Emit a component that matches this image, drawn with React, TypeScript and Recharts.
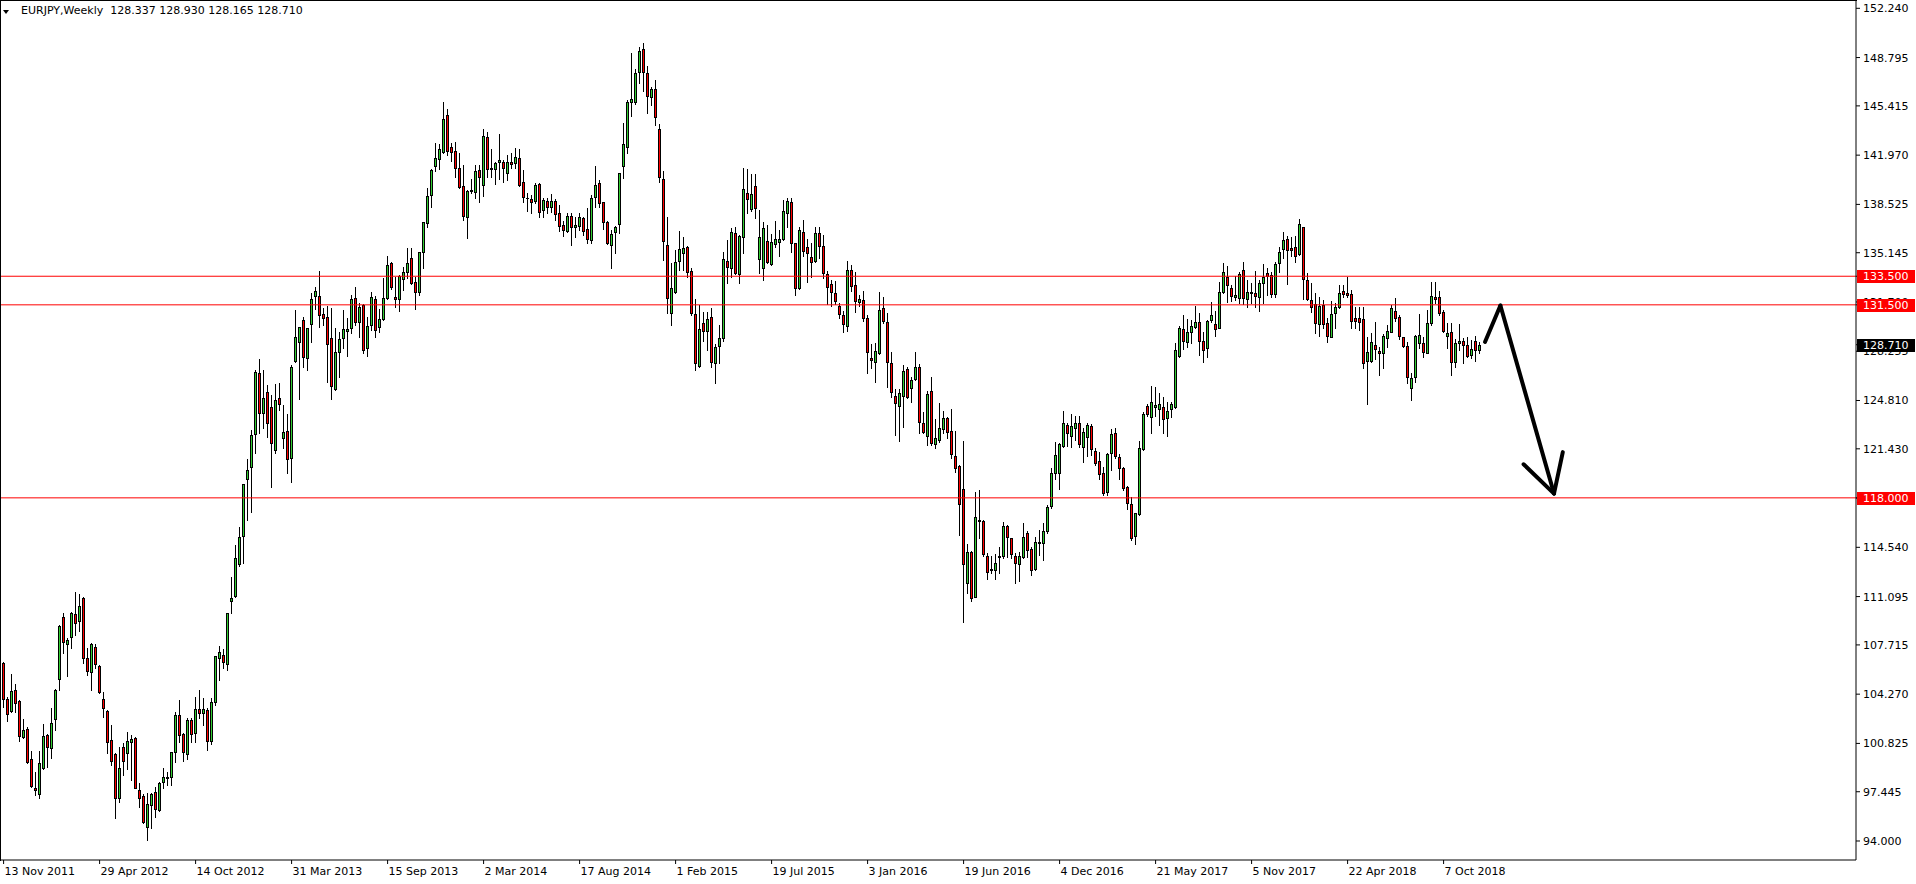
import React from 'react';
import { ComposedChart, Bar, XAxis, YAxis, ReferenceLine } from 'recharts';

const FONT = '"DejaVu Sans", Tahoma, sans-serif';
const BULL = '#32cd32';
const BEAR = '#ff0000';

// weekly EURJPY bars, one per week starting 13 Nov 2011
const opens = [
  106.42, 103.93, 103.09, 104.53, 103.79, 101.29, 101.83, 99.73, 97.68, 97.26,
  99.12, 101.38, 100.47, 102.5, 105.3, 109.64, 107.8, 108.24, 109.85, 109.36,
  110.99, 106.77, 105.79, 107.54, 106.23, 103.9, 103.09, 101.06, 100.08, 96.98,
  100.54, 100.12, 100.94, 101.17, 97.6, 97.14, 94.99, 96.51, 97.4, 96.16,
  98.14, 98.44, 98.49, 100.19, 102.78, 101.48, 100.08, 102.43, 101.52, 103.2,
  102.92, 103.13, 100.99, 103.7, 106.81, 107.0, 106.35, 110.8, 111.15, 113.37,
  115.35, 119.29, 120.18, 122.49, 126.71, 123.91, 125.38, 124.37, 121.34, 124.98,
  122.21, 122.67, 120.76, 127.55, 128.88, 130.41, 127.76, 130.16, 132.12, 132.12,
  130.86, 130.62, 129.15, 125.61, 128.22, 129.15, 129.69, 129.85, 131.95, 130.27,
  131.49, 128.45, 130.09, 131.9, 129.97, 130.48, 131.95, 134.4, 132.02, 131.88,
  133.28, 133.82, 134.75, 133.12, 132.42, 135.22, 137.24, 139.16, 141.21, 141.68,
  142.17, 144.78, 142.52, 142.26, 141.05, 139.83, 137.66, 139.46, 139.37, 140.93,
  139.9, 143.21, 141.02, 140.98, 141.51, 141.49, 140.7, 141.49, 141.4, 141.75,
  140.06, 138.99, 138.87, 138.78, 139.92, 138.13, 138.76, 138.32, 138.76, 137.9,
  137.08, 136.66, 137.71, 136.91, 137.03, 137.55, 136.78, 136.03, 139.02, 139.99,
  138.66, 137.31, 135.68, 136.57, 137.13, 141.23, 142.56, 145.66, 145.71, 147.81,
  149.37, 147.69, 146.06, 146.57, 143.8, 140.27, 135.68, 130.95, 132.42, 134.59,
  135.14, 135.52, 133.86, 130.83, 127.24, 130.2, 129.69, 130.62, 127.4, 128.64,
  129.15, 134.56, 134.05, 136.5, 133.63, 136.27, 139.34, 138.18, 139.81, 134.68,
  134.05, 135.96, 134.35, 135.75, 135.92, 136.08, 137.95, 138.69, 135.8, 132.65,
  136.57, 135.52, 134.87, 134.59, 136.5, 135.61, 133.63, 132.93, 132.3, 131.44,
  130.79, 130.04, 133.93, 132.88, 131.72, 131.84, 130.55, 127.75, 127.52, 128.1,
  131.25, 130.27, 127.4, 125.14, 124.42, 125.12, 126.98, 125.66, 126.29, 127.12,
  123.21, 122.32, 125.47, 121.74, 122.04, 122.79, 123.56, 122.67, 120.92, 120.23,
  118.62, 112.06, 114.18, 111.08, 116.45, 116.38, 113.93, 113.02, 112.95, 113.84,
  113.95, 116.03, 115.16, 113.93, 113.35, 113.88, 115.51, 114.39, 113.0, 114.81,
  114.81, 115.7, 117.43, 119.71, 119.71, 121.63, 123.09, 122.35, 122.86, 123.21,
  121.53, 122.28, 123.02, 121.3, 120.6, 119.71, 118.38, 121.11, 122.56, 120.88,
  120.06, 118.73, 117.54, 115.35, 116.84, 121.39, 124.42, 123.67, 124.37, 124.19,
  124.37, 123.6, 124.19, 124.37, 127.92, 129.78, 128.92, 129.57, 129.97, 130.27,
  128.97, 128.5, 130.44, 130.16, 129.9, 132.37, 133.47, 132.65, 132.07, 132.0,
  133.94, 131.91, 132.3, 132.3, 132.07, 133.0, 133.7, 133.59, 132.26, 134.45,
  135.4, 136.08, 135.45, 135.52, 135.03, 136.92, 133.24, 131.84, 131.53, 130.13,
  131.46, 130.2, 129.27, 130.9, 131.32, 132.47, 132.3, 132.23, 130.6, 130.55,
  130.51, 127.59, 127.59, 128.69, 128.29, 128.15, 129.2, 129.62, 131.07, 130.62,
  129.22, 128.64, 125.66, 126.47, 128.85, 128.8, 128.15, 130.2, 132.07, 132.07,
  131.02, 129.34, 129.62, 127.52, 128.85, 128.94, 128.69, 127.99, 128.97, 128.337,
];

const highs = [
  106.5, 104.09, 105.67, 104.97, 103.86, 102.53, 101.94, 100.29, 98.84, 100.29,
  102.18, 101.45, 103.32, 104.62, 109.1, 109.96, 108.17, 109.99, 111.39, 111.25,
  111.08, 107.47, 107.82, 107.75, 106.3, 104.39, 103.16, 102.11, 100.12, 100.59,
  100.82, 101.59, 101.41, 101.29, 98.09, 97.3, 97.33, 97.37, 97.75, 98.14,
  99.12, 98.84, 100.24, 103.04, 103.86, 101.52, 102.57, 102.57, 104.09, 104.55,
  103.97, 103.32, 103.97, 106.95, 107.65, 107.4, 109.97, 112.48, 114.7, 115.98,
  119.0, 120.71, 122.74, 126.94, 127.71, 126.94, 125.89, 125.19, 125.96, 126.01,
  124.49, 123.84, 127.29, 131.14, 129.97, 130.62, 129.9, 132.3, 132.77, 133.9,
  131.25, 131.42, 131.25, 129.85, 129.62, 131.13, 130.55, 132.18, 132.77, 131.6,
  131.55, 130.67, 132.37, 132.11, 131.2, 133.35, 134.94, 134.52, 133.47, 133.58,
  134.17, 135.45, 135.45, 133.47, 135.22, 137.3, 139.65, 141.0, 142.84, 142.73,
  145.66, 145.17, 142.8, 142.87, 142.1, 141.28, 139.53, 140.28, 141.28, 141.28,
  143.8, 143.56, 142.38, 141.47, 143.45, 141.63, 141.98, 142.1, 142.45, 142.38,
  140.93, 139.3, 139.18, 139.99, 140.04, 138.95, 138.95, 139.25, 138.88, 138.48,
  137.36, 137.9, 137.94, 137.66, 137.94, 137.66, 138.29, 139.18, 141.21, 140.23,
  138.71, 137.36, 136.73, 137.01, 140.74, 144.19, 145.83, 149.09, 147.97, 149.56,
  149.79, 148.2, 146.76, 147.22, 144.12, 140.86, 137.66, 134.4, 135.33, 136.66,
  136.22, 135.61, 134.05, 131.9, 131.49, 130.97, 130.97, 131.25, 128.73, 130.09,
  135.22, 136.03, 136.85, 136.92, 136.38, 141.05, 140.98, 140.65, 140.65, 138.13,
  137.31, 137.08, 136.45, 137.39, 136.73, 138.83, 138.95, 138.99, 135.85, 136.92,
  137.43, 136.08, 135.8, 136.92, 136.92, 136.38, 133.89, 133.23, 133.16, 131.6,
  131.07, 134.56, 134.28, 133.77, 132.19, 132.46, 130.79, 128.76, 128.85, 132.37,
  132.02, 130.9, 128.22, 125.59, 125.59, 127.29, 127.17, 126.47, 128.22, 127.33,
  124.02, 125.49, 126.43, 123.49, 124.61, 124.09, 123.67, 124.19, 122.67, 120.3,
  121.97, 114.77, 114.25, 118.38, 118.55, 116.45, 114.12, 113.95, 114.05, 114.58,
  116.33, 116.1, 115.21, 114.12, 114.23, 116.26, 115.7, 114.58, 115.28, 115.75,
  116.21, 117.5, 120.06, 121.93, 121.81, 124.07, 123.21, 123.84, 123.72, 123.72,
  122.91, 123.21, 123.14, 121.46, 121.23, 120.18, 121.16, 122.79, 122.86, 121.04,
  120.18, 118.83, 118.03, 116.96, 121.97, 124.03, 124.54, 125.82, 125.77, 125.31,
  125.07, 124.72, 124.72, 128.8, 130.02, 130.79, 130.48, 130.44, 131.42, 130.9,
  129.62, 130.44, 131.72, 131.07, 133.12, 134.45, 134.21, 132.89, 133.52, 133.82,
  134.47, 133.24, 133.0, 133.87, 133.24, 134.35, 134.1, 133.82, 134.52, 135.57,
  136.62, 136.31, 136.27, 136.34, 137.5, 136.97, 133.75, 133.0, 132.35, 132.02,
  131.84, 130.55, 131.79, 131.65, 132.89, 132.89, 133.47, 132.54, 131.37, 131.37,
  131.37, 129.27, 129.5, 130.32, 128.57, 129.43, 130.09, 131.49, 131.95, 130.79,
  129.27, 128.92, 126.75, 129.39, 130.83, 129.27, 131.14, 133.07, 133.07, 132.47,
  131.14, 130.25, 130.25, 129.08, 130.13, 129.15, 129.22, 129.04, 129.32, 128.93,
];

const lows = [
  103.39, 102.41, 103.04, 102.99, 101.01, 101.22, 99.45, 97.8, 97.21, 96.98,
  99.07, 99.17, 99.82, 101.76, 104.55, 107.17, 105.56, 107.47, 108.4, 108.71,
  106.47, 105.6, 104.55, 106.12, 104.37, 102.69, 100.17, 99.31, 95.58, 96.74,
  98.61, 99.07, 98.26, 97.68, 96.39, 95.23, 94.06, 94.88, 95.69, 96.11,
  97.68, 97.91, 97.91, 99.54, 100.94, 99.61, 99.77, 100.94, 100.94, 102.57,
  102.11, 100.36, 100.8, 103.5, 105.25, 106.07, 105.95, 109.92, 111.08, 113.25,
  113.46, 116.45, 117.03, 121.16, 122.51, 122.86, 122.23, 118.73, 121.11, 124.14,
  121.46, 119.71, 119.08, 127.5, 124.89, 127.13, 126.94, 128.92, 131.18, 129.93,
  130.09, 126.12, 124.89, 125.54, 126.47, 128.5, 127.94, 129.5, 130.09, 129.27,
  128.15, 127.94, 129.74, 129.27, 129.62, 130.44, 131.88, 132.58, 131.37, 131.09,
  132.53, 133.4, 132.95, 131.18, 132.18, 134.05, 136.97, 138.36, 140.88, 140.98,
  142.1, 141.98, 141.58, 140.42, 139.65, 137.43, 136.2, 139.3, 138.95, 138.71,
  139.11, 140.42, 140.42, 139.93, 140.28, 140.07, 140.23, 141.05, 141.05, 139.81,
  138.71, 138.06, 137.94, 138.6, 137.66, 137.66, 137.9, 138.01, 137.43, 136.68,
  136.33, 136.61, 135.68, 136.26, 136.73, 136.38, 135.8, 135.8, 138.36, 138.36,
  136.78, 135.75, 134.1, 135.14, 136.54, 140.35, 142.09, 144.71, 145.55, 146.99,
  146.45, 144.94, 145.47, 144.08, 140.11, 134.63, 130.9, 130.08, 132.3, 133.93,
  133.93, 133.46, 130.78, 126.94, 127.12, 128.99, 128.34, 127.17, 126.05, 127.4,
  128.99, 133.05, 133.47, 133.65, 133.05, 135.1, 137.95, 138.06, 137.6, 133.75,
  133.23, 134.4, 134.28, 135.57, 134.91, 136.03, 136.97, 135.22, 132.19, 132.6,
  134.91, 133.12, 133.42, 134.52, 134.75, 133.35, 131.56, 131.44, 131.56, 130.55,
  129.62, 129.67, 132.49, 131.02, 131.44, 130.39, 126.75, 127.05, 126.12, 128.06,
  130.2, 125.73, 125.03, 122.39, 121.99, 122.97, 125.0, 124.68, 126.24, 122.51,
  122.51, 121.69, 121.69, 121.46, 121.92, 122.55, 122.16, 120.81, 119.83, 115.4,
  109.33, 111.32, 110.8, 111.04, 115.16, 113.95, 112.3, 112.72, 112.32, 112.76,
  113.77, 113.88, 113.77, 112.02, 112.2, 113.77, 113.88, 112.6, 112.95, 114.0,
  113.65, 115.51, 117.26, 119.29, 118.62, 121.58, 121.63, 121.53, 122.04, 121.58,
  120.53, 120.95, 121.0, 120.3, 119.29, 118.2, 118.2, 119.95, 120.76, 119.29,
  118.55, 117.22, 115.05, 114.77, 116.8, 121.34, 123.72, 122.51, 123.72, 123.09,
  122.56, 122.35, 123.63, 124.3, 127.87, 128.41, 128.57, 128.8, 129.85, 127.99,
  127.52, 127.84, 130.32, 129.34, 129.85, 132.3, 131.72, 131.79, 131.84, 131.6,
  131.56, 131.37, 131.6, 131.37, 131.09, 131.65, 132.19, 132.02, 132.07, 133.82,
  134.75, 132.96, 134.91, 134.52, 134.98, 131.91, 131.84, 131.02, 129.5, 129.32,
  129.85, 128.92, 129.22, 129.9, 131.25, 132.02, 132.02, 129.85, 129.85, 129.74,
  127.06, 124.56, 127.52, 127.68, 126.59, 127.06, 128.57, 129.57, 130.39, 129.08,
  128.57, 126.01, 124.84, 126.12, 128.45, 127.87, 128.1, 130.09, 131.6, 130.79,
  129.62, 128.45, 126.59, 127.17, 128.34, 127.45, 127.87, 127.76, 127.57, 128.165,
];

const closes = [
  103.93, 102.85, 104.46, 103.62, 101.36, 101.76, 99.54, 97.86, 97.54, 99.49,
  101.31, 100.59, 102.22, 104.55, 109.03, 107.94, 108.05, 109.92, 109.22, 110.41,
  106.77, 105.91, 107.75, 106.35, 104.44, 103.27, 100.94, 99.61, 97.02, 99.14,
  99.59, 100.96, 101.13, 97.72, 96.98, 95.34, 96.56, 97.28, 96.21, 98.09,
  98.47, 98.49, 100.19, 102.78, 101.41, 100.24, 102.43, 101.5, 103.2, 102.92,
  103.2, 100.99, 103.7, 106.93, 107.19, 106.53, 109.92, 111.03, 113.76, 115.23,
  118.96, 119.92, 122.39, 126.78, 123.91, 124.96, 123.21, 121.81, 124.84, 124.54,
  122.63, 120.69, 127.13, 129.22, 129.93, 127.83, 129.85, 131.91, 132.47, 130.79,
  130.55, 128.74, 125.84, 128.22, 129.08, 129.78, 129.8, 131.88, 130.32, 131.32,
  128.34, 130.02, 132.02, 129.74, 130.48, 131.95, 134.28, 132.77, 131.93, 133.51,
  133.82, 134.4, 133.0, 132.42, 135.17, 137.27, 139.11, 140.93, 141.75, 142.38,
  144.47, 142.28, 142.17, 141.05, 139.76, 137.73, 139.46, 139.53, 140.86, 140.46,
  143.31, 140.98, 141.09, 141.4, 141.63, 141.05, 141.47, 141.35, 141.82, 139.88,
  139.06, 138.96, 138.71, 139.88, 138.01, 138.83, 138.36, 138.76, 137.83, 137.03,
  136.73, 137.71, 136.91, 137.08, 137.62, 136.68, 136.08, 138.95, 139.88, 138.6,
  137.31, 135.84, 136.45, 136.91, 140.69, 142.72, 145.71, 145.87, 147.69, 149.25,
  147.76, 146.13, 146.57, 144.61, 140.42, 135.98, 132.0, 132.65, 134.47, 135.38,
  135.45, 133.81, 130.9, 127.4, 129.78, 129.69, 130.48, 127.47, 128.52, 129.15,
  134.68, 134.17, 136.57, 133.75, 136.31, 139.58, 138.88, 139.23, 138.25, 136.27,
  136.85, 134.52, 135.87, 136.08, 136.08, 138.06, 138.76, 135.8, 132.65, 136.73,
  135.29, 135.1, 134.52, 136.5, 135.64, 133.7, 132.72, 132.37, 131.79, 130.83,
  130.13, 133.93, 132.81, 131.79, 131.88, 130.6, 128.22, 127.64, 128.27, 131.14,
  130.39, 127.47, 125.38, 124.61, 125.31, 126.87, 125.07, 126.24, 127.12, 123.28,
  122.63, 125.26, 121.81, 122.16, 122.86, 123.56, 122.63, 121.04, 120.11, 117.54,
  113.35, 114.18, 110.97, 116.68, 116.38, 114.05, 112.79, 112.93, 113.42, 113.95,
  116.03, 115.23, 114.07, 113.42, 113.95, 115.23, 114.35, 112.95, 114.93, 114.88,
  115.7, 117.38, 119.71, 121.0, 121.74, 123.21, 122.56, 123.02, 123.21, 121.74,
  122.58, 123.09, 121.39, 120.41, 119.67, 118.36, 121.07, 122.44, 120.95, 120.11,
  118.66, 117.61, 115.16, 116.91, 121.46, 123.86, 123.86, 124.67, 124.49, 124.56,
  123.49, 124.07, 124.56, 128.34, 129.85, 128.99, 129.57, 130.02, 130.27, 128.99,
  128.34, 130.37, 130.79, 129.81, 132.37, 133.77, 132.89, 132.14, 132.19, 133.63,
  131.95, 132.37, 132.37, 132.14, 133.0, 133.42, 133.52, 132.26, 134.33, 135.17,
  136.03, 135.33, 135.33, 134.94, 137.15, 133.28, 131.88, 131.37, 130.2, 131.42,
  130.13, 129.34, 130.83, 131.32, 132.3, 132.26, 132.19, 130.39, 130.39, 130.32,
  127.4, 128.17, 128.87, 128.38, 128.15, 129.32, 129.67, 131.25, 130.55, 129.34,
  128.64, 126.47, 126.36, 129.32, 129.39, 128.22, 130.2, 132.14, 131.88, 130.95,
  129.67, 129.5, 127.52, 128.85, 128.94, 128.69, 127.94, 128.41, 128.34, 128.71,
];

const dateTickIdx = [0, 24, 48, 72, 96, 120, 144, 168, 192, 216, 240, 264, 288, 312, 336, 360];
const dateLabels = [
  '13 Nov 2011', '29 Apr 2012', '14 Oct 2012', '31 Mar 2013', '15 Sep 2013', '2 Mar 2014',
  '17 Aug 2014', '1 Feb 2015', '19 Jul 2015', '3 Jan 2016', '19 Jun 2016', '4 Dec 2016',
  '21 May 2017', '5 Nov 2017', '22 Apr 2018', '7 Oct 2018',
];
const priceTicks = [
  152.24, 148.795, 145.415, 141.97, 138.525, 135.145, 131.7, 128.255, 124.81,
  121.43, 117.985, 114.54, 111.095, 107.715, 104.27, 100.825, 97.445, 94.0,
];
const levels = [133.5, 131.5, 118.0];
const lastPrice = 128.71;
const header = 'EURJPY,Weekly  128.337 128.930 128.165 128.710';

// hand-drawn arrow, in (bar index, price)
const arrowLine = [
  { x: 370.35, y: 128.9 },
  { x: 374.2, y: 131.45 },
  { x: 387.6, y: 118.3 },
];
const arrowHead = [
  { x: 380.0, y: 120.35 },
  { x: 387.6, y: 118.3 },
  { x: 389.8, y: 121.2 },
];

const candles = closes.map((c, i) => ({
  i,
  range: [lows[i], highs[i]],
  o: opens[i],
  h: highs[i],
  l: lows[i],
  c,
}));

// tags go last so they are painted over the ordinary price labels
const axisTicks = [...priceTicks, ...levels, lastPrice];

function Candle(props: any) {
  const { x, y, width, height, payload } = props;
  if (!payload || !Number.isFinite(x) || !Number.isFinite(y)) return null;
  const top = Math.min(y, y + height);
  const span = Math.abs(height);
  const { o, h, l, c } = payload;
  const py = (v: number) => (h === l ? top : top + ((h - v) / (h - l)) * span);
  const cx = Math.floor(x + width / 2);
  const yHigh = Math.round(top);
  const yLow = Math.round(top + span);
  const b1 = Math.round(Math.min(py(o), py(c)));
  const b2 = Math.round(Math.max(py(o), py(c)));
  const bh = b2 - b1 + 1;
  return (
    <g shapeRendering="crispEdges">
      <rect x={cx} y={yHigh} width={1} height={yLow - yHigh + 1} fill="#000" />
      <rect x={cx - 1} y={b1} width={3} height={bh} fill="#000" />
      {bh > 2 && (
        <rect x={cx} y={b1 + 1} width={1} height={bh - 2} fill={c >= o ? BULL : BEAR} />
      )}
    </g>
  );
}

function PriceTick(props: any) {
  const { x, y, payload } = props;
  const v = payload.value;
  const label = v.toFixed(3);
  const isLevel = levels.includes(v);
  const isLast = v === lastPrice;
  if (isLevel || isLast) {
    const cy = Math.round(y);
    return (
      <g shapeRendering="crispEdges">
        <rect x={x - 6} y={cy - 6} width={58} height={13} fill={isLast ? '#000' : '#ff0000'} />
        <text x={x} y={cy} dy="0.36em" fill="#fff" fontSize={11} fontFamily={FONT}>
          {label}
        </text>
      </g>
    );
  }
  return (
    <text x={x} y={y} dy="0.36em" fill="#000" fontSize={11} fontFamily={FONT}>
      {label}
    </text>
  );
}

function DateTick(props: any) {
  const { x, y, payload } = props;
  const k = dateTickIdx.indexOf(payload.value);
  return (
    <text x={x + 1} y={y} dy="0.71em" fontSize={11} fontFamily={FONT} fill="#000" textAnchor="start">
      {k >= 0 ? dateLabels[k] : ''}
    </text>
  );
}

export default function App() {
  return (
    <div style={{ position: 'absolute', left: 0, top: 0, width: 1916, height: 884, background: '#fff', overflow: 'hidden' }}>
      <ComposedChart width={1916} height={884} data={candles} margin={{ top: 1, right: 0, bottom: 0, left: 1 }}>
        <XAxis
          dataKey="i"
          type="number"
          domain={[-0.65, 463.1]}
          allowDataOverflow
          ticks={dateTickIdx}
          interval={0}
          tick={<DateTick />}
          tickSize={4}
          tickMargin={3}
          height={24}
          stroke="#000"
        />
        <YAxis
          orientation="right"
          type="number"
          domain={[92.671, 152.751]}
          allowDataOverflow
          ticks={axisTicks}
          interval={0}
          width={60}
          tickSize={4}
          tickMargin={3}
          tick={<PriceTick />}
          stroke="#000"
        />
        <Bar dataKey="range" barSize={3} shape={(p: any) => <Candle {...p} />} isAnimationActive={false} />
        {levels.map((lv) => (
          <ReferenceLine key={lv} y={lv} stroke="#ff0000" strokeWidth={1} />
        ))}
        {arrowLine.slice(1).map((pt, k) => (
          <ReferenceLine
            key={'a' + k}
            segment={[arrowLine[k], pt]}
            stroke="#000"
            strokeWidth={4}
            strokeLinecap="round"
          />
        ))}
        {arrowHead.slice(1).map((pt, k) => (
          <ReferenceLine
            key={'h' + k}
            segment={[arrowHead[k], pt]}
            stroke="#000"
            strokeWidth={4}
            strokeLinecap="round"
          />
        ))}
      </ComposedChart>
      <div
        style={{
          position: 'absolute', left: 0, top: 0, width: 1856, height: 860,
          borderLeft: '1px solid #000', borderTop: '1px solid #000', pointerEvents: 'none',
        }}
      />
      <div
        style={{
          position: 'absolute', left: 3, top: 10, width: 0, height: 0,
          borderLeft: '3px solid transparent', borderRight: '3px solid transparent', borderTop: '4px solid #000',
        }}
      />
      <div style={{ position: 'absolute', left: 21, top: 4, fontFamily: FONT, fontSize: 11, color: '#000', whiteSpace: 'pre' }}>
        {header}
      </div>
    </div>
  );
}
